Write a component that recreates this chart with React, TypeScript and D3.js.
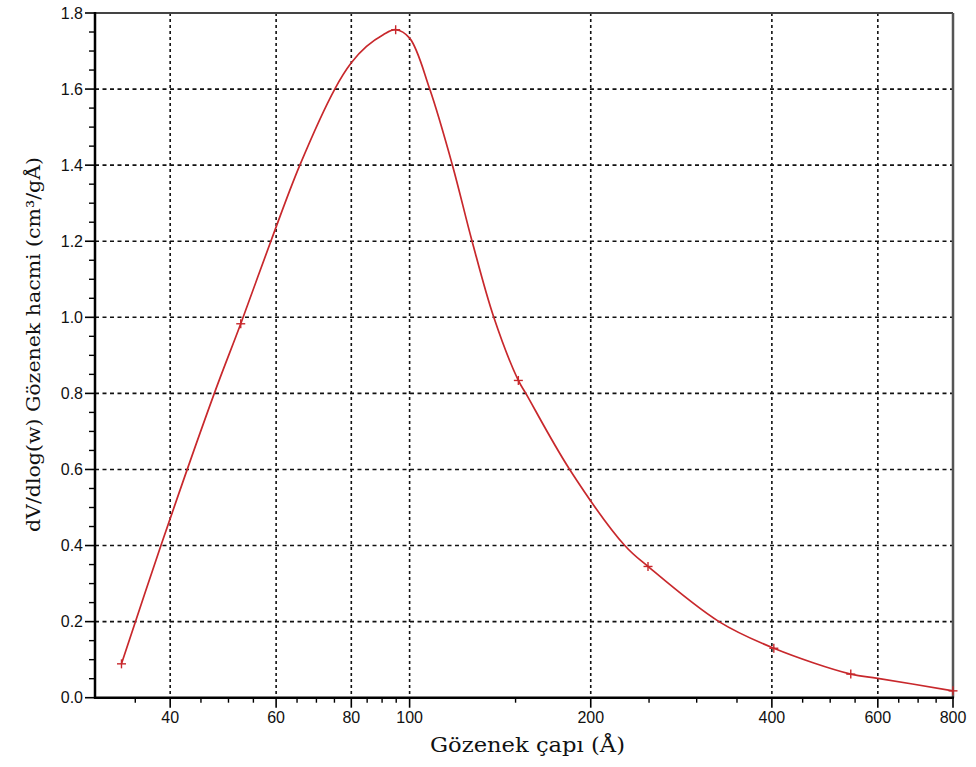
import React from "react";
import * as d3 from "d3";

// Curve samples (pore diameter Å, dV/dlog(w))
const curveX = [33.2, 38.61, 47.36, 52.4, 58.8, 65.7, 75.1, 80, 84.8, 90.4, 94.8, 100, 108, 117.8, 127.0, 138.0, 151.6, 156.0, 184.5, 227.8, 249, 326.7, 403, 541, 600, 800];
const curveY = [0.089, 0.4, 0.8, 0.983, 1.2, 1.4, 1.6, 1.669, 1.712, 1.743, 1.756, 1.734, 1.6, 1.4, 1.2, 1.0, 0.834, 0.8, 0.6, 0.4, 0.345, 0.2, 0.13, 0.062, 0.051, 0.018];

// Measured points (markers)
const markerX = [33.2, 52.4, 94.8, 151.6, 249, 403, 541, 800];
const markerY = [0.089, 0.983, 1.756, 0.834, 0.345, 0.13, 0.062, 0.018];

const xMajorTicks = [40, 60, 80, 100, 200, 400, 600, 800];
const xMinorTicks = [35, 45, 50, 55, 65, 70, 75, 85, 90, 95, 150, 250, 300, 350, 450, 500, 550, 650, 700, 750];
const yMajorTicks = [0, 0.2, 0.4, 0.6, 0.8, 1.0, 1.2, 1.4, 1.6, 1.8];
const yMinorTicks = d3.range(0.05, 1.8, 0.05).filter((v) => Math.abs(v * 5 - Math.round(v * 5)) > 1e-6);

const xTitle = "Gözenek çapı  (Å)";
const yTitle = "dV/dlog(w)  Gözenek hacmi (cm³/gÅ)";

export default function App() {
  const W = 976, H = 767;
  const L = 95, R = 953, T = 13, B = 697.7;
  const x = d3.scaleLog().domain([30, 800]).range([L, R]);
  const y = d3.scaleLinear().domain([0, 1.8]).range([B, T]);
  const pts: [number, number][] = curveX.map((v, i) => [v, curveY[i]]);
  const line = d3
    .line<[number, number]>()
    .x((d) => x(d[0]))
    .y((d) => y(d[1]))
    .curve(d3.curveCatmullRom.alpha(0.5));
  const red = "#c8282c";
  const labelFont = "'Liberation Sans', Arial, sans-serif";
  const titleFont = "'DejaVu Serif', 'Liberation Serif', serif";
  return (
    <svg width={W} height={H} style={{ position: "absolute", left: 0, top: 0, background: "#fff" }}>
      {/* grid */}
      {yMajorTicks.filter((t) => t > 0 && t < 1.8).map((t) => (
        <line key={"gy" + t} x1={L} x2={R} y1={y(t)} y2={y(t)} stroke="#111" strokeWidth={1.6} strokeDasharray="4,3.5" />
      ))}
      {xMajorTicks.filter((t) => t < 800).map((t) => (
        <line key={"gx" + t} x1={x(t)} x2={x(t)} y1={T} y2={B} stroke="#111" strokeWidth={1.6} strokeDasharray="3,3" />
      ))}
      {/* frame */}
      <line x1={L} x2={R} y1={T} y2={T} stroke="#444" strokeWidth={2} />
      <line x1={R} x2={R} y1={T} y2={B} stroke="#555" strokeWidth={2.5} />
      <line x1={L} x2={L} y1={T - 1} y2={B + 1} stroke="#000" strokeWidth={2.5} />
      <line x1={L - 1} x2={R + 1} y1={B} y2={B} stroke="#000" strokeWidth={2.5} />
      {/* y ticks */}
      {yMajorTicks.map((t) => (
        <g key={"yt" + t}>
          <line x1={L - 10} x2={L} y1={y(t)} y2={y(t)} stroke="#000" strokeWidth={1.6} />
          <text x={L - 12} y={y(t)} dy="0.36em" textAnchor="end" fontFamily={labelFont} fontSize={16} fill="#111">
            {t.toFixed(1)}
          </text>
        </g>
      ))}
      {yMinorTicks.map((t) => (
        <line key={"ym" + t} x1={L - 6} x2={L} y1={y(t)} y2={y(t)} stroke="#000" strokeWidth={1.4} />
      ))}
      {/* x ticks */}
      {xMajorTicks.map((t) => (
        <g key={"xt" + t}>
          <line x1={x(t)} x2={x(t)} y1={B} y2={B + 10} stroke="#000" strokeWidth={1.6} />
          <text x={x(t)} y={B + 25} textAnchor="middle" fontFamily={labelFont} fontSize={16} fill="#111">
            {t}
          </text>
        </g>
      ))}
      {xMinorTicks.map((t) => (
        <line key={"xm" + t} x1={x(t)} x2={x(t)} y1={B} y2={B + 5} stroke="#000" strokeWidth={1.4} />
      ))}
      {/* curve */}
      <path d={line(pts) || ""} fill="none" stroke={red} strokeWidth={1.7} />
      {markerX.map((v, i) => (
        <g key={"m" + i} stroke={red} strokeWidth={1.4}>
          <line x1={x(v) - 4.5} x2={x(v) + 4.5} y1={y(markerY[i])} y2={y(markerY[i])} />
          <line x1={x(v)} x2={x(v)} y1={y(markerY[i]) - 4.5} y2={y(markerY[i]) + 4.5} />
        </g>
      ))}
      {/* titles */}
      <text x={430} y={752} textLength={195} lengthAdjust="spacingAndGlyphs" fontFamily={titleFont} fontSize={20} fill="#111">
        {xTitle}
      </text>
      <text
        transform={`translate(40, 532) rotate(-90)`}
        textLength={375}
        lengthAdjust="spacingAndGlyphs"
        fontFamily={titleFont}
        fontSize={19}
        fill="#111"
      >
        {yTitle}
      </text>
    </svg>
  );
}
